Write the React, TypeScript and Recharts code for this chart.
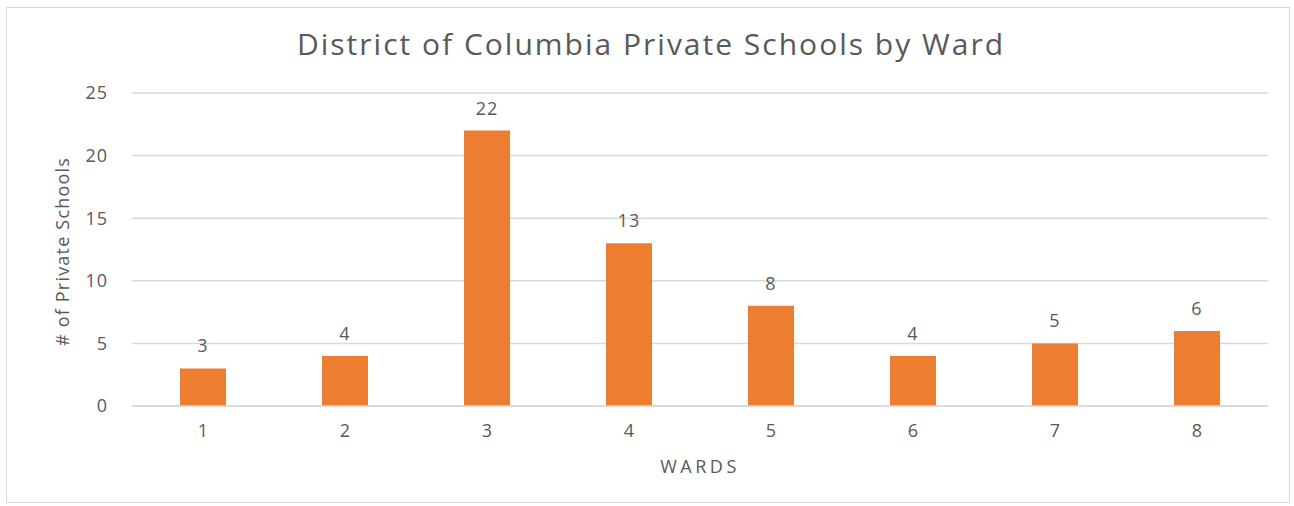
import { Bar, BarChart, CartesianGrid, LabelList, XAxis, YAxis } from "recharts";

const wards = ["1", "2", "3", "4", "5", "6", "7", "8"];
const schools = [3, 4, 22, 13, 8, 4, 5, 6];
const yTicks = [0, 5, 10, 15, 20, 25];

const data = wards.map((ward, i) => ({ ward, schools: schools[i] }));

const FONT = "'Open Sans', 'Liberation Sans', sans-serif";
const TEXT = "#595959";
const GRID = "#d9d9d9";
const ORANGE = "#ED7D31";

function YTitle({ viewBox }: any) {
  const cx = 62;
  const cy = viewBox.y + viewBox.height / 2 + 2;
  return (
    <text
      x={cx}
      y={cy}
      transform={`rotate(-90, ${cx}, ${cy})`}
      textAnchor="middle"
      dominantBaseline="central"
      fill={TEXT}
      fontSize={18}
      letterSpacing={1.2}
      fontFamily={FONT}
    >
      # of Private Schools
    </text>
  );
}

export default function App() {
  return (
    <div style={{ position: "absolute", left: 0, top: 0, width: 1294, height: 506, background: "#fff", fontFamily: FONT }}>
      <div style={{ position: "absolute", left: 6, top: 7, width: 1282, height: 494, border: `1px solid ${GRID}` }} />
      <div
        style={{
          position: "absolute",
          left: 0,
          top: 24,
          width: 1294,
          paddingLeft: 4,
          textAlign: "center",
          fontSize: 30,
          letterSpacing: 2,
          color: TEXT,
          lineHeight: "40px",
        }}
      >
        District of Columbia Private Schools by Ward
      </div>
      <div style={{ position: "absolute", left: 0, top: 0 }}>
        <BarChart width={1294} height={506} data={data} margin={{ top: 93, right: 26, bottom: 30, left: 60 }} barSize={46}>
          <CartesianGrid vertical={false} stroke={GRID} strokeWidth={1.5} />
          <XAxis
            dataKey="ward"
            height={70}
            axisLine={{ stroke: GRID, strokeWidth: 1.5 }}
            tickLine={false}
            tickMargin={12}
            tick={{ fill: TEXT, fontSize: 18, fontFamily: FONT }}
            label={{ value: "WARDS", position: "insideBottom", offset: 3, fill: TEXT, fontSize: 18, letterSpacing: 3.5, fontFamily: FONT }}
          />
          <YAxis
            width={72}
            domain={[0, 25]}
            ticks={yTicks}
            axisLine={false}
            tickLine={false}
            tickMargin={18}
            tick={{ fill: TEXT, fontSize: 18, letterSpacing: 1, fontFamily: FONT }}
            label={{ content: YTitle }}
          />
          <Bar dataKey="schools" fill={ORANGE} isAnimationActive={false}>
            <LabelList dataKey="schools" position="top" offset={16} fill={TEXT} fontSize={18} letterSpacing={1} fontFamily={FONT} />
          </Bar>
        </BarChart>
      </div>
    </div>
  );
}
